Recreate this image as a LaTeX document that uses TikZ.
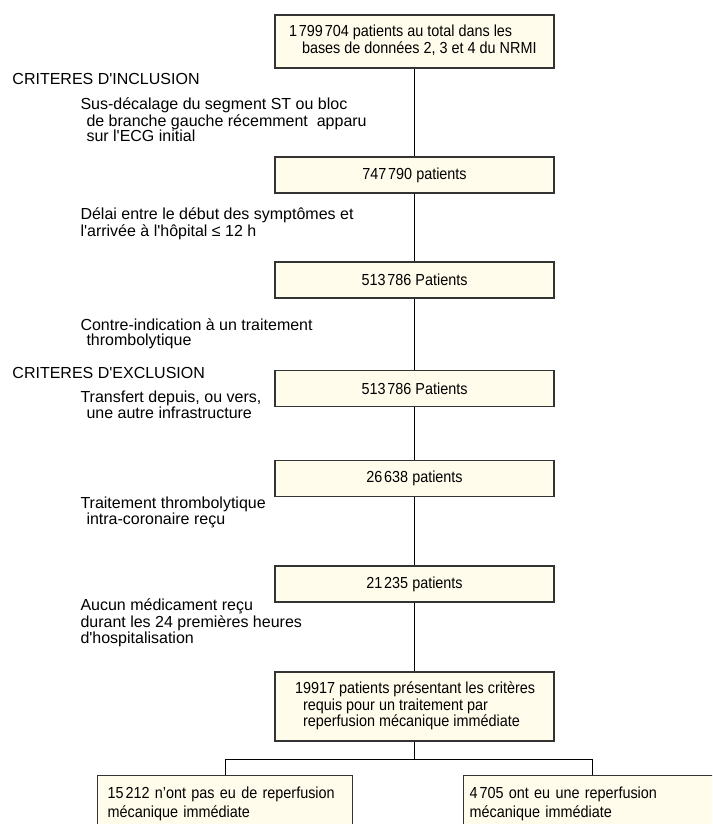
\documentclass[tikz,border=0pt]{standalone}
\usepackage{fontspec}
\setmainfont{Liberation Sans}
\newfontfamily\narrowfont[FakeStretch=0.9]{Liberation Sans}
\definecolor{boxfill}{HTML}{FFFCEB}
\newcommand{\sq}{\textquotesingle}
\newcommand{\ths}{\kern0.12em}
% left-set lines in a box of given width
\newcommand{\boxlines}[2]{\makebox[#1][l]{\begin{tabular}{@{}l@{}}#2\end{tabular}}}

\begin{document}
\begin{tikzpicture}[x=1pt, y=-1pt, line width=1pt,
    box/.style={draw=black!80, line width=1.2pt, fill=boxfill, inner sep=0pt,
      minimum width=279pt, minimum height=36pt,
      font=\narrowfont\fontsize{16}{15}\selectfont},
    endbox/.style={box, anchor=north west, inner xsep=10pt, inner ysep=11pt,
      align=left, text depth=40pt, font=\narrowfont\fontsize{16}{19}\selectfont},
    crit/.style={anchor=base west, inner sep=0pt, align=left,
      font=\fontsize{16}{14.5}\selectfont}]
  \useasboundingbox (0,0) rectangle (712,824);
  \clip (0,0) rectangle (712,824);

  % boxes on the spine
  \node[box, minimum height=53pt, font=\narrowfont\fontsize{16}{16}\selectfont] (tot) at (414.5,41.5)
    {\boxlines{251pt}{1\ths 799\ths 704 patients au total dans les\\\hspace*{13pt}bases de données 2, 3 et 4 du NRMI}};
  \node[box] (ecg) at (414.5,175) {747\ths 790 patients};
  \node[box] (delai) at (414.5,280) {513\ths 786 Patients};
  \node[box] (contra) at (414.5,388.5) {513\ths 786 Patients};
  \node[box] (transf) at (414.5,478.5) {26\ths 638 patients};
  \node[box] (intra) at (414.5,584) {21\ths 235 patients};
  \node[box, minimum height=69pt] (sel) at (414.5,706.5)
    {\boxlines{239pt}{19917 patients présentant les critères\\\hspace*{8pt}requis pour un traitement par\\\hspace*{8pt}reperfusion mécanique immédiate}};
  \node[endbox, minimum width=255pt, text width=235pt] (no) at (97,775)
    {15\ths 212 n’ont pas eu de reperfusion\\mécanique immédiate};
  \node[endbox, minimum width=258pt, inner xsep=6pt, text width=246pt] (yes) at (463,775)
    {4\ths 705 ont eu une reperfusion\\mécanique immédiate};

  % criteria (base = last line)
  \node[crit] (incl) at (12,85) {CRITERES D\sq INCLUSION};
  \node[crit] (st) at (80,142) {Sus-décalage du segment ST ou bloc\\
    \hspace*{6pt}de branche gauche récemment\ \ apparu\\\hspace*{6pt}sur l\sq ECG initial};
  \node[crit] (onset) at (80,236) {Délai entre le début des symptômes et\\
    l\sq arrivée à l\sq hôpital ≤ 12 h};
  \node[crit] (ci) at (80,345) {Contre-indication à un traitement\\\hspace*{6pt}thrombolytique};
  \node[crit] (excl) at (12,378) {CRITERES D\sq EXCLUSION};
  \node[crit] (tr) at (80,418) {Transfert depuis, ou vers,\\\hspace*{6pt}une autre infrastructure};
  \node[crit] (ic) at (80,524) {Traitement thrombolytique\\\hspace*{6pt}intra-coronaire reçu};
  \node[crit] (med) at (80,643) {Aucun médicament reçu\\durant les 24 premières heures\\d\sq hospitalisation};

  % connectors
  \draw (tot) -- (ecg);
  \draw (ecg) -- (delai);
  \draw (delai) -- (contra);
  \draw (contra) -- (transf);
  \draw (transf) -- (intra);
  \draw (intra) -- (sel);
  \draw (sel.south) -- ++(0,18) coordinate (fork);
  \draw (no) |- (fork) -| (yes);
\end{tikzpicture}
\end{document}
